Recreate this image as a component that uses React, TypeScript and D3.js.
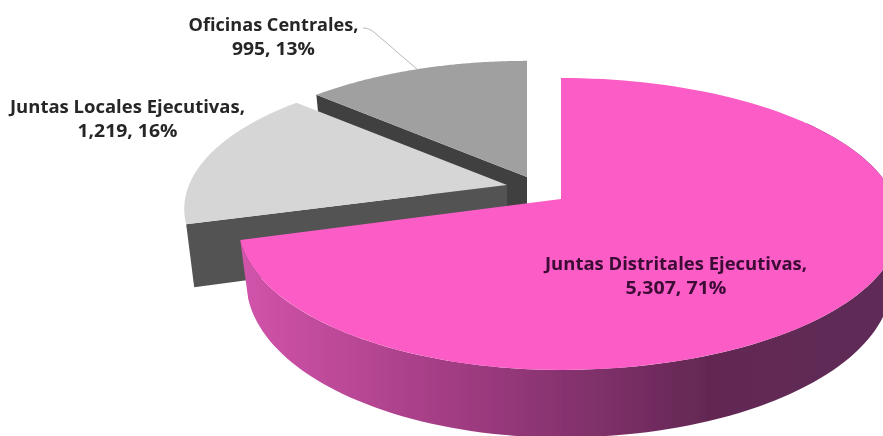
import React from "react";
import * as d3 from "d3";

const categories = ["Juntas Distritales Ejecutivas", "Juntas Locales Ejecutivas", "Oficinas Centrales"];
const values = [5307, 1219, 995];
const percents = ["71%", "16%", "13%"];
const topColors = ["#fb5cc6", "#d6d6d6", "#a0a0a0"];
const wallColors = ["#6b2a5c", "#525252", "#404040"];
const apexX = [561, 507, 527];
const apexY = [199, 185, 177];
const depths = [56, 60, 60];
const tilt = [141.7, 136, 136];
const labelX = [676, 127.5, 273.5];
const labelY = [270, 113, 31];
const nameWidths = [262, 235, 170];
const valueWidths = [101, 100, 83];
const gradStops = [0, 0.3, 0.55, 0.72, 1];
const gradColors = ["#d254ab", "#a63e86", "#7f3069", "#632853", "#5f2a58"];

const W = 883, H = 436;
const RX = 318, RX_RIGHT = 334, P = 0.171, BOTTOM_X = 0.975;

function project(i: number, a: number, bottom: boolean): [number, number] {
  const u = Math.sin(a), v = -Math.cos(a);
  const s = 1 / (1 - P * v);
  const rx = u > 0 ? RX_RIGHT : RX;
  const x = apexX[i] + rx * u * s * (bottom ? BOTTOM_X : 1);
  const y = apexY[i] + tilt[i] * v * s + (bottom ? depths[i] * s : 0);
  return [x, y];
}
function apexPt(i: number, bottom: boolean): [number, number] {
  return [apexX[i], apexY[i] + (bottom ? depths[i] : 0)];
}
const line = d3.line();

function arcPts(i: number, a0: number, a1: number, bottom: boolean) {
  return d3.range(0, 121).map((t) => project(i, a0 + ((a1 - a0) * t) / 120, bottom));
}

export default function App() {
  const arcs = d3.pie<number>().sort(null).startAngle(0).endAngle(2 * Math.PI)(values);
  const order = [2, 1, 0];
  const colorAt = d3.scaleLinear<string>().domain(gradStops).range(gradColors);
  const gx = d3.scaleLinear().domain([240, 890]).range([0, 1]);
  return (
    <svg width={W} height={H} viewBox={`0 0 ${W} ${H}`}
      style={{ position: "absolute", left: 0, top: 0, background: "#fff" }}
      fontFamily="'Open Sans', sans-serif" fontWeight={700} fontSize={17}>
      <defs>
        <linearGradient id="wall" gradientUnits="userSpaceOnUse" x1={gx.invert(0)} x2={gx.invert(1)} y1={0} y2={0}>
          {gradStops.map((o) => <stop key={o} offset={o} stopColor={colorAt(o)} />)}
        </linearGradient>
        <filter id="soft" x="-5%" y="-5%" width="110%" height="110%"><feGaussianBlur stdDeviation={0.5} /></filter>
        <filter id="glow" filterUnits="userSpaceOnUse" x={0} y={0} width={W} height={H}><feGaussianBlur stdDeviation={0.5} /></filter>
      </defs>
      <g filter="url(#soft)">
        {order.map((i) => {
          const a = arcs[i];
          const start = a.startAngle, end = a.endAngle;
          const top = [apexPt(i, false), ...arcPts(i, start, end, false)];
          const cut = [apexPt(i, false), project(i, start, false), project(i, start, true), apexPt(i, true)];
          return (
            <g key={categories[i]}>
              {i === 0 && (
                <path d={line([...arcPts(0, Math.PI * 0.3, end, false), ...arcPts(0, end, Math.PI * 0.3, true)])!}
                  fill="url(#wall)" />
              )}
              {i !== 0 && <path d={line(cut)! + "Z"} fill={wallColors[i]} />}
              <path d={line(top)! + "Z"} fill={topColors[i]} />
            </g>
          );
        })}
      </g>
      <path d="M363 28 C367 28 370 29 375 33 L418 70" fill="none" stroke="#a6a6a6" strokeWidth={0.8} />
      {categories.map((c, i) => (
        <g key={c} textAnchor="middle" fill={i === 0 ? "#3a0a36" : "#262626"} filter="url(#glow)">
          <text x={labelX[i]} y={labelY[i]} textLength={nameWidths[i]} lengthAdjust="spacingAndGlyphs">{c},</text>
          <text x={labelX[i]} y={labelY[i] + 24} textLength={valueWidths[i]} lengthAdjust="spacingAndGlyphs">
            {d3.format(",")(values[i])}, {percents[i]}
          </text>
        </g>
      ))}
    </svg>
  );
}
